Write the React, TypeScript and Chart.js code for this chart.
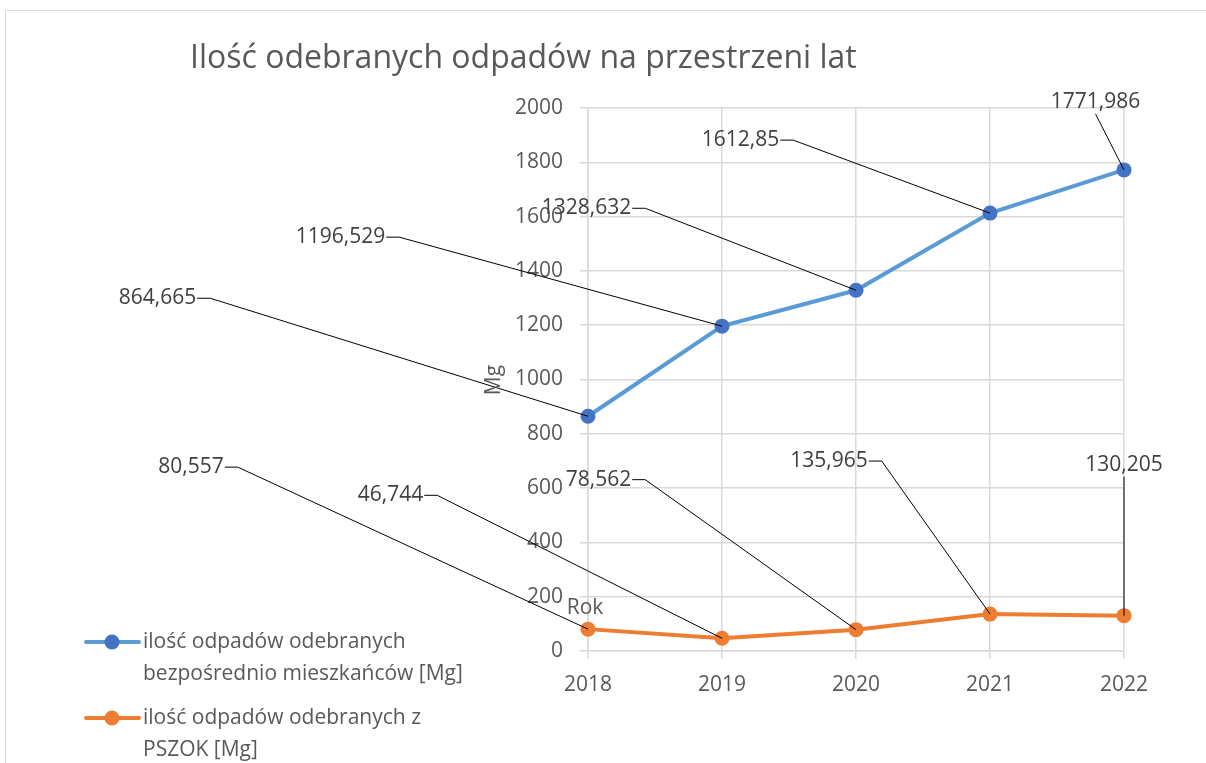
import React, { useEffect, useRef } from "react";
import { Chart, registerables } from "chart.js";

Chart.register(...registerables);

// ---- data ----
const categories = ["2018", "2019", "2020", "2021", "2022"];
const residentsValues = [864.665, 1196.529, 1328.632, 1612.85, 1771.986];
const pszokValues = [80.557, 46.744, 78.562, 135.965, 130.205];
const seriesNames = [
  "ilość odpadów odebranych bezpośrednio mieszkańców [Mg]",
  "ilość odpadów odebranych z PSZOK [Mg]",
];
const legendLines = [
  ["ilość odpadów odebranych", "bezpośrednio mieszkańców [Mg]"],
  ["ilość odpadów odebranych z", "PSZOK [Mg]"],
];
const yMin = 0;
const yMax = 2000;
const yStep = 200;
const chartTitle = "Ilość odebranych odpadów na przestrzeni lat";
const yAxisTitle = "Mg";
const xAxisTitle = "Rok";

// ---- layout / style (label offsets relative to each point, px) ----
const labelOffsets = [
  [[-430.5, -118], [-381.5, -89], [-269.5, -82], [-249.5, -73], [-28.5, -68]],
  [[-397, -162], [-331.5, -143], [-257.5, -150], [-161, -153], [0, -151]],
];
const FONT = "'Open Sans', sans-serif";
const lineColors = ["#5B9BD5", "#ED7D31"];
const markerColors = ["#4472C4", "#ED7D31"];
const textGrey = "#595959";
const labelGrey = "#404040";
const gridGrey = "#D9D9D9";

const fmt = (v: number) => String(v).replace(".", ",");

const overlayPlugin = {
  id: "overlay",
  beforeDraw(chart: any) {
    const ctx = chart.ctx;
    ctx.save();
    ctx.fillStyle = "#ffffff";
    ctx.fillRect(0, 0, chart.width, chart.height);
    ctx.strokeStyle = gridGrey;
    ctx.lineWidth = 1;
    ctx.strokeRect(5.5, 10.5, 1400, 1000);
    ctx.restore();
  },
  afterDatasetsDraw(chart: any) {
    const ctx = chart.ctx;
    ctx.save();
    ctx.font = `21px ${FONT}`;
    ctx.textBaseline = "middle";
    ctx.textAlign = "center";
    chart.data.datasets.forEach((ds: any, di: number) => {
      const meta = chart.getDatasetMeta(di);
      meta.data.forEach((pt: any, i: number) => {
        const [dx, dy] = labelOffsets[di][i];
        const cx = pt.x + dx;
        const cy = pt.y + dy;
        const text = fmt(ds.data[i]);
        const w = ctx.measureText(text).width;
        ctx.strokeStyle = "#000000";
        ctx.lineWidth = 1;
        ctx.beginPath();
        if (cx + w / 2 < pt.x - 10) {
          const sx = cx + w / 2 + 1;
          ctx.moveTo(sx, cy);
          ctx.lineTo(sx + 13, cy);
          ctx.lineTo(pt.x, pt.y);
        } else {
          ctx.moveTo(cx, cy + 12);
          ctx.lineTo(pt.x, pt.y);
        }
        ctx.stroke();
        ctx.fillStyle = labelGrey;
        ctx.fillText(text, cx, cy);
      });
    });
    ctx.restore();
  },
  afterDraw(chart: any) {
    const ctx = chart.ctx;
    const area = chart.chartArea;
    ctx.save();
    // title
    ctx.fillStyle = textGrey;
    ctx.font = `32px ${FONT}`;
    ctx.textAlign = "left";
    ctx.textBaseline = "alphabetic";
    ctx.fillText(chartTitle, 190, 68);
    // axis titles
    ctx.font = `21px ${FONT}`;
    ctx.textBaseline = "middle";
    ctx.textAlign = "center";
    ctx.fillText(xAxisTitle, area.left - 3, 608);
    ctx.save();
    ctx.translate(494, 380);
    ctx.rotate(-Math.PI / 2);
    ctx.fillText(yAxisTitle, 0, 0);
    ctx.restore();
    // legend
    const ys = [642, 718];
    legendLines.forEach((lines, i) => {
      const y = ys[i];
      ctx.strokeStyle = lineColors[i];
      ctx.lineWidth = 4;
      ctx.lineCap = "round";
      ctx.beginPath();
      ctx.moveTo(86, y);
      ctx.lineTo(139, y);
      ctx.stroke();
      ctx.fillStyle = markerColors[i];
      ctx.beginPath();
      ctx.arc(112, y, 7.5, 0, Math.PI * 2);
      ctx.fill();
      ctx.fillStyle = textGrey;
      ctx.textAlign = "left";
      lines.forEach((ln, j) => ctx.fillText(ln, 143, y + j * 32));
    });
    ctx.restore();
  },
};

export default function App() {
  const ref = useRef<HTMLCanvasElement | null>(null);
  useEffect(() => {
    document.body.style.margin = "0";
    const canvas = ref.current;
    if (!canvas) return;
    const chart = new Chart(canvas, {
      type: "line",
      data: {
        labels: categories,
        datasets: [
          {
            label: seriesNames[0],
            data: residentsValues,
            borderColor: lineColors[0],
            backgroundColor: markerColors[0],
            pointBackgroundColor: markerColors[0],
            pointBorderColor: markerColors[0],
            pointBorderWidth: 0,
            pointRadius: 7.5,
            borderWidth: 4,
            tension: 0,
            clip: false,
          },
          {
            label: seriesNames[1],
            data: pszokValues,
            borderColor: lineColors[1],
            backgroundColor: markerColors[1],
            pointBackgroundColor: markerColors[1],
            pointBorderColor: markerColors[1],
            pointBorderWidth: 0,
            pointRadius: 7.5,
            borderWidth: 4,
            tension: 0,
            clip: false,
          },
        ],
      },
      options: {
        animation: false,
        responsive: false,
        maintainAspectRatio: false,
        layout: { padding: { top: 108, right: 82, left: 0, bottom: 0 } },
        plugins: {
          legend: { display: false },
          title: { display: false },
          tooltip: { enabled: false },
        },
        scales: {
          x: {
            type: "category",
            offset: false,
            grid: {
              color: gridGrey,
              lineWidth: 1.5,
              drawTicks: true,
              tickLength: 8,
              tickColor: gridGrey,
            },
            border: { color: gridGrey, width: 1.5 },
            ticks: {
              color: textGrey,
              font: { family: FONT, size: 21 },
              padding: 13,
              maxRotation: 0,
            },
            afterFit: (s: any) => {
              s.height = 112;
            },
          },
          y: {
            min: yMin,
            max: yMax,
            grid: {
              color: gridGrey,
              lineWidth: 1.5,
              drawTicks: true,
              tickLength: 8,
              tickColor: gridGrey,
            },
            border: { color: gridGrey, width: 1.5 },
            ticks: {
              stepSize: yStep,
              color: textGrey,
              font: { family: FONT, size: 21 },
              padding: 17,
              callback: (v: any) => String(v),
            },
            afterFit: (s: any) => {
              s.width = 588;
            },
          },
        },
      },
      plugins: [overlayPlugin],
    });
    return () => chart.destroy();
  }, []);
  return (
    <div style={{ position: "fixed", left: 0, top: 0, width: 1206, height: 763 }}>
      <canvas ref={ref} width={1206} height={763} style={{ width: 1206, height: 763 }} />
    </div>
  );
}
